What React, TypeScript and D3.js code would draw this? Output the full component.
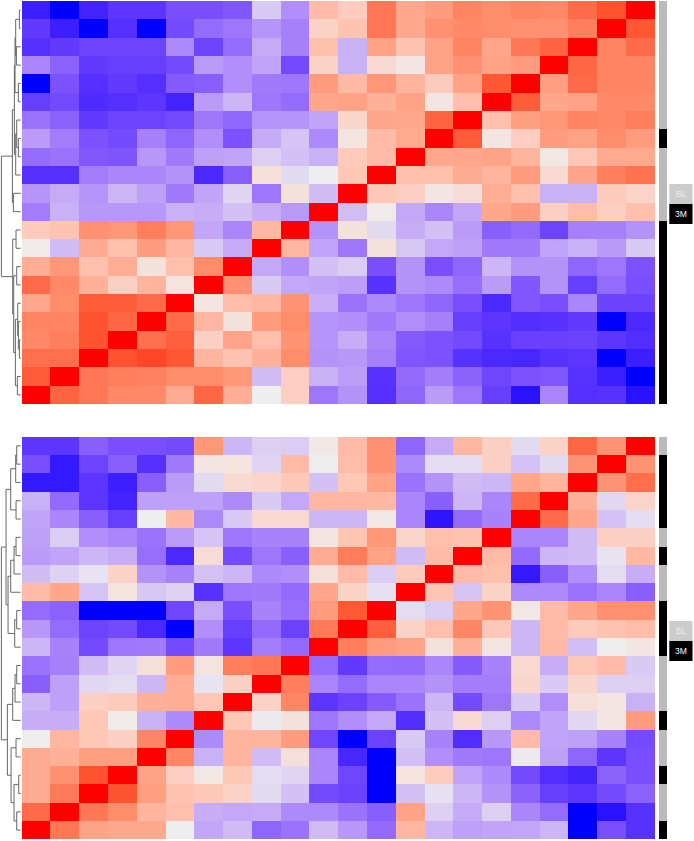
import * as d3 from 'd3';

type Tree = number | [Tree, Tree, number];

// correlation x100, rows top to bottom
const topMatrix = [
  [-92, -100, -90, -82, -82, -70, -70, -66, -12, -38, 24, 15, 62, 35, 42, 55, 50, 55, 52, 68, 80, 100],
  [-80, -92, -100, -85, -100, -72, -55, -50, -35, -45, 12, 20, 62, 35, 48, 52, 50, 48, 48, 58, 100, 78],
  [-85, -80, -75, -75, -75, -40, -75, -55, -25, -45, 22, -22, 38, 20, 38, 55, 36, 62, 72, 100, 55, 68],
  [-42, -60, -80, -78, -78, -72, -32, -38, -28, -72, 12, -22, 8, 3, 38, 48, 38, 42, 100, 70, 55, 55],
  [-100, -68, -85, -80, -85, -64, -62, -38, -48, -50, 42, 25, 45, 28, 16, 38, 78, 100, 40, 68, 55, 55],
  [-78, -72, -87, -85, -82, -90, -32, -20, -50, -55, 36, 38, 30, 38, 3, 22, 100, 75, 36, 38, 52, 52],
  [-52, -60, -80, -75, -75, -72, -50, -57, -35, -35, -28, 10, 36, 35, 72, 100, 22, 40, 45, 55, 52, 58],
  [-32, -47, -68, -72, -45, -58, -38, -68, -25, -14, -40, 4, 24, 34, 100, 76, 3, 14, 42, 38, 50, 42],
  [-55, -52, -65, -67, -34, -48, -30, -28, -10, -16, -22, 16, 24, 100, 35, 36, 38, 28, 2, 17, 34, 34],
  [-85, -85, -47, -42, -42, -36, -88, -62, 6, -6, 0, 18, 100, 22, 22, 33, 28, 42, 9, 37, 58, 64],
  [-35, -25, -35, -20, -30, -48, -28, -8, -50, 5, -18, 100, 17, 14, 3, 7, 32, 21, -22, -22, 16, 11],
  [-47, -22, -34, -34, -34, -22, -24, -16, -24, -33, 100, -17, 1, -26, -42, -27, 36, 42, 13, 23, 14, 22],
  [16, 20, 48, 45, 58, 45, -27, -42, 26, 100, -36, 5, -6, -24, -16, -32, -62, -56, -75, -45, -45, -36],
  [1, -18, 33, 21, 42, 27, -12, -25, 100, 27, -28, -50, 5, -13, -26, -30, -48, -48, -28, -22, -33, -12],
  [32, 44, 21, 32, 5, 22, 50, 100, -26, -38, -16, -11, -70, -36, -70, -58, -20, -36, -36, -58, -50, -68],
  [68, 52, 30, 13, 28, 4, 100, 48, -12, -26, -28, -31, -84, -36, -40, -54, -32, -66, -36, -78, -55, -70],
  [35, 50, 75, 75, 68, 100, 3, 23, 27, 46, -23, -52, -40, -50, -58, -70, -88, -66, -70, -42, -76, -76],
  [55, 55, 80, 70, 100, 68, 27, 5, 42, 50, -35, -38, -48, -38, -45, -78, -82, -86, -84, -80, -100, -88],
  [52, 58, 80, 100, 65, 74, 13, 37, 22, 46, -35, -24, -42, -64, -68, -72, -84, -77, -77, -76, -82, -86],
  [66, 66, 100, 80, 85, 78, 28, 20, 30, 50, -36, -34, -45, -66, -68, -84, -88, -89, -84, -82, -100, -92],
  [76, 100, 62, 58, 56, 50, 50, 44, -18, 14, -22, -31, -84, -56, -46, -60, -74, -68, -66, -84, -92, -100],
  [100, 72, 62, 52, 52, 33, 70, 32, 0, 14, -50, -36, -85, -58, -32, -50, -78, -96, -42, -85, -84, -96],
];

const bottomMatrix = [
  [-82, -82, -62, -70, -70, -72, 44, -20, -10, -11, 2, 24, 48, -58, -25, 27, 13, -6, 12, 70, 46, 100],
  [-70, -94, -75, -62, -85, -48, 3, 4, -8, 24, 0, 23, 48, -40, -5, -5, 13, -15, -6, 46, 100, 46],
  [-94, -94, -82, -92, -62, -32, -6, 8, 11, 17, -16, 18, 38, -52, -36, -18, -20, 36, 28, 100, 46, 66],
  [-22, -56, -82, -90, -30, -30, -30, -40, -12, -26, 27, 27, 26, -42, -62, -20, -42, 68, 100, 30, -7, 11],
  [-28, -42, -62, -78, 0, 26, -40, -12, 8, 9, -20, -20, 2, -42, -95, -56, -44, 100, 68, 36, -15, -5],
  [-30, -11, -38, -42, -52, -32, -14, -50, -44, -44, 3, 19, 44, 11, 22, 20, 100, -42, -42, -18, 13, 13],
  [-32, -28, -20, -24, -54, -88, 7, -72, -50, -62, 33, 59, 38, -18, 24, 100, 24, -56, -20, -18, -3, 26],
  [-18, -9, -3, 12, -36, -44, -15, -20, -40, -38, 6, 24, -11, 16, 100, 24, 22, -94, -62, -38, -5, -24],
  [24, 36, -14, 4, -13, -9, -84, -50, -48, -56, 36, 12, -4, 100, 19, -14, 12, -40, -40, -52, -42, -62],
  [-55, -60, -100, -100, -100, -74, -25, -70, -44, -54, 42, 77, 100, -5, -11, 36, 46, 2, 24, 36, 48, 48],
  [-34, -55, -75, -72, -88, -100, -38, -78, -56, -76, 60, 100, 74, 12, 22, 54, 17, -20, 24, 16, 20, 23],
  [-20, -44, -72, -50, -48, -72, -48, -82, -46, -56, 100, 58, 42, 38, 5, 30, 3, -20, 25, -17, 0, 3],
  [-52, -45, -18, -8, 6, 42, 4, 58, 62, 100, -55, -80, -55, -56, -42, -64, -44, 9, -24, 17, 24, -12],
  [-62, -30, -7, -5, -20, 32, -3, 13, 100, 58, -43, -55, -42, -42, -36, -46, -46, 10, -12, 10, -10, -10],
  [-20, -30, 13, 16, 30, 32, 18, 100, 12, 54, -82, -76, -64, -52, -20, -72, -50, -12, -38, 6, 3, -22],
  [-24, -24, 18, 1, -22, -40, 100, 18, -1, 5, -50, -38, -26, -86, -16, 8, -10, -40, -28, -7, 3, 42],
  [0, 27, 18, 13, 54, 100, -40, 28, 28, 42, -74, -100, -76, -12, -44, -86, -34, 24, -28, -30, -44, -72],
  [33, 30, 40, 40, 100, 54, -22, 28, -18, 6, -42, -89, -100, -16, -38, -48, -50, -1, -30, -58, -82, -70],
  [33, 48, 80, 100, 38, 14, 2, 18, -5, -8, -42, -74, -100, 4, 15, -28, -40, -72, -86, -90, -60, -70],
  [33, 60, 100, 80, 40, 20, 18, 12, -6, -16, -72, -76, -100, -16, -4, -20, -36, -60, -78, -82, -72, -60],
  [68, 100, 62, 50, 28, 22, -24, -26, -25, -40, -40, -52, -62, 38, -10, -25, -10, -42, -55, -100, -96, -84],
  [100, 62, 38, 35, 35, 0, -27, -18, -58, -52, -18, -34, -56, 27, -20, -30, -28, -27, -20, -100, -70, -84],
];

const topVisits = ['BL', 'BL', 'BL', 'BL', 'BL', 'BL', 'BL', '3M', 'BL', 'BL', 'BL', 'BL', '3M', '3M', '3M', '3M', '3M', '3M', '3M', '3M', '3M', '3M'];
const bottomVisits = ['BL', '3M', '3M', '3M', '3M', 'BL', '3M', 'BL', 'BL', '3M', '3M', '3M', 'BL', 'BL', 'BL', '3M', 'BL', 'BL', '3M', 'BL', 'BL', '3M'];
const legendLabels = ['BL', '3M'];

const topTree: Tree = [
  [
    [
      [[[0, 1, 7], [2, 3, 16], 18], [4, 5, 10], 20],
      [[6, [7, 8, 10], 15], 9, 18],
      22,
    ],
    [10, 11, 25],
    28,
  ],
  [
    [12, 13, 17],
    [[14, 15, 15], [[16, [17, [18, 19, 7], 10], 12], [20, 21, 13], 19], 24],
    27,
  ],
  61,
];

const bottomTree: Tree = [
  [
    [[[0, 1, 15], 2, 18], [3, 4, 17], 33],
    [[[[5, 6, 17], 7, 23], 8, 33], [[9, 10, 15], 11, 21], 41],
    47,
  ],
  [
    [[[12, 13, 15], 14, 20], 15, 27],
    [[16, 17, 17], [[18, 19, 9], [20, 21, 15], 23], 32],
    43,
  ],
  61,
];

const width = 694;
const height = 841;
const rows = d3.range(22);

const x = d3.scaleBand<number>().domain(rows).range([21.7, 654.7]);
const color = d3.scaleDivergingPow(d3.piecewise(d3.interpolateLab, ['#0000ff', '#eeeeee', '#ff0000']))
  .domain([-100, 0, 100])
  .exponent(0.85);
const treeX = d3.scaleLinear().domain([0, 61]).range([21.7, 1.4]);
const visitColor = d3.scaleOrdinal<string>().domain(legendLabels).range(['#bbbbbb', '#000000']);

function treePath(tree: Tree, y: d3.ScaleBand<number>) {
  const path = d3.path();
  // returns position of the node so the parent can link to it
  const walk = (node: Tree): [number, number] => {
    if (typeof node === 'number') return [treeX(3), y(node)! + y.bandwidth() / 2];
    const [a, b, h] = node;
    const [ax, ay] = walk(a);
    const [bx, by] = walk(b);
    const nx = treeX(h);
    path.moveTo(ax, ay);
    path.lineTo(nx, ay);
    path.lineTo(nx, by);
    path.lineTo(bx, by);
    return [nx, (ay + by) / 2];
  };
  walk(tree);
  return path.toString();
}

function Panel({ matrix, visits, tree, y0, y1, legendY }: {
  matrix: number[][];
  visits: string[];
  tree: Tree;
  y0: number;
  y1: number;
  legendY: number;
}) {
  const y = d3.scaleBand<number>().domain(rows).range([y0, y1]);
  const legend = d3.scaleBand<string>().domain(legendLabels).range([legendY, legendY + 40]);
  return (
    <g>
      <path d={treePath(tree, y)} fill="none" stroke="#666666" strokeWidth={1} />
      <g shapeRendering="crispEdges">
        {matrix.map((row, i) =>
          row.map((v, j) => (
            <rect key={`${i}-${j}`} x={x(j)} y={y(i)} width={x.bandwidth()} height={y.bandwidth()} fill={color(v)} />
          )),
        )}
        {visits.map((v, i) => (
          <rect key={i} x={658.7} y={y(i)} width={8.3} height={y.bandwidth()} fill={visitColor(v)} />
        ))}
      </g>
      {legendLabels.map(l => (
        <g key={l}>
          <rect x={669.3} y={legend(l)} width={23.2} height={legend.bandwidth()} fill={l === 'BL' ? '#cccccc' : '#000000'} />
          <text
            x={681}
            y={legend(l)! + legend.bandwidth() / 2}
            dy="0.35em"
            textAnchor="middle"
            fontFamily="'Liberation Sans', Arial, sans-serif"
            fontSize={8.5}
            fill={l === 'BL' ? '#eeeeee' : '#ffffff'}
          >
            {l}
          </text>
        </g>
      ))}
    </g>
  );
}

export default function App() {
  return (
    <svg
      width={width}
      height={height}
      viewBox={`0 0 ${width} ${height}`}
      style={{ position: 'absolute', left: 0, top: 0, background: '#fff', display: 'block' }}
    >
      <Panel matrix={topMatrix} visits={topVisits} tree={topTree} y0={1} y1={404} legendY={184} />
      <Panel matrix={bottomMatrix} visits={bottomVisits} tree={bottomTree} y0={436.7} y1={839.3} legendY={621} />
    </svg>
  );
}
